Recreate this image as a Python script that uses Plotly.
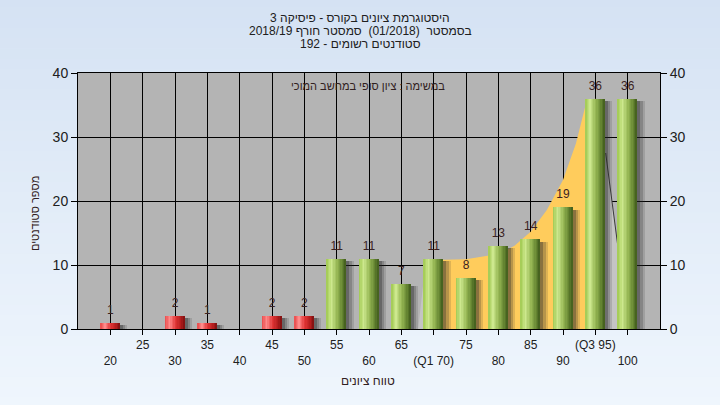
import plotly.graph_objects as go

# ---------------- data ----------------
categories = [20, 25, 30, 35, 40, 45, 50, 55, 60, 65, 70, 75, 80, 85, 90, 95, 100]
counts = [1, 0, 2, 1, 0, 2, 2, 11, 11, 7, 11, 8, 13, 14, 19, 36, 36]
tick_labels = ["20", "25", "30", "35", "40", "45", "50", "55", "60", "65",
               "(Q1 70)", "75", "80", "85", "90", "(Q3 95)", "100"]
pass_grade = 55

iqr_x = [70, 75, 80, 82.5, 85, 87.5, 90, 92, 93.5, 95]
iqr_y = [10.8, 10.9, 11.7, 13.0, 15.2, 18.6, 23.3, 29.0, 35.0, 36]
tail_left_x = [67.6, 68.6, 70]
tail_left_y = [0, 9, 10.8]
tail_right_x = [95, 96.6, 98.6]
tail_right_y = [36, 27.5, 12]

title_lines = ["היסטוגרמת ציונים בקורס - פיסיקה 3",
               "בסמסטר  (01/2018)  סמסטר חורף 2018/19",
               "סטודנטים רשומים - 192"]
note_text = "במשימה : ציון סופי במחשב המוכי"
x_title = "טווח ציונים"
y_title = "מספר סטודנטים"

FONT = "Liberation Sans, Arial, sans-serif"


def hex2rgb(h):
    h = h.lstrip("#")
    return tuple(int(h[i:i + 2], 16) for i in (0, 2, 4))


def interp(stops, t):
    for (t0, c0), (t1, c1) in zip(stops[:-1], stops[1:]):
        if t0 <= t <= t1:
            f = (t - t0) / (t1 - t0) if t1 > t0 else 0
            a, b = hex2rgb(c0), hex2rgb(c1)
            return "rgb(%d,%d,%d)" % tuple(round(a[k] + (b[k] - a[k]) * f) for k in range(3))
    return stops[-1][1]


def area_path(xs, ys):
    pts = ["M %s,0" % xs[0]] + ["L %s,%s" % (x, y) for x, y in zip(xs, ys)] + ["L %s,0 Z" % xs[-1]]
    return " ".join(pts)


green_stops = [(0, "#9fc850"), (0.25, "#cde88e"), (0.55, "#94b552"), (0.85, "#5f7f2e"), (1, "#3f5a1c")]
red_stops = [(0, "#e84a4a"), (0.25, "#ff8a8a"), (0.55, "#e03434"), (0.85, "#b01c1c"), (1, "#7c1010")]

fig = go.Figure()

# background gradient on the paper (as shapes) + gray plot area
n_bands = 40
y_lo, y_hi = -76 / 256 - 0.01, 1 + 73 / 256 + 0.01
top_c, bot_c = hex2rgb("#d5e2f3"), hex2rgb("#eff6fd")
for i in range(n_bands):
    f = i / (n_bands - 1)
    c = tuple(round(bot_c[k] + (top_c[k] - bot_c[k]) * f) for k in range(3))
    y0 = y_lo + (y_hi - y_lo) * i / n_bands
    y1 = y_lo + (y_hi - y_lo) * (i + 1) / n_bands + 0.002
    fig.add_shape(type="rect", xref="paper", yref="paper", x0=-0.2, x1=1.2, y0=y0, y1=y1,
                  fillcolor="rgb(%d,%d,%d)" % c, line_width=0, layer="below")
fig.add_shape(type="rect", xref="paper", yref="paper", x0=0, x1=1, y0=0, y1=1,
              fillcolor="#b4b4b4", line_width=0, layer="below")

# distribution areas (between gridlines and bars)
fig.add_shape(type="path", xref="x", yref="y", path=area_path(tail_left_x, tail_left_y),
              fillcolor="#c4c4c4", line_width=0, layer="between")
fig.add_shape(type="path", xref="x", yref="y", path=area_path(tail_right_x, tail_right_y),
              fillcolor="#c4c4c4", line_width=0, layer="between")
fig.add_shape(type="line", xref="x", yref="y", x0=tail_right_x[1], y0=tail_right_y[1],
              x1=tail_right_x[2], y1=tail_right_y[2], line=dict(color="#3a3a3a", width=1),
              layer="between")
fig.add_shape(type="path", xref="x", yref="y", path=area_path(iqr_x, iqr_y),
              fillcolor="#ffcc5c", line_width=0, layer="between")

bar_w = 3.0
# shadows
for shift, alpha in [(1.15, 0.15), (0.8, 0.22), (0.45, 0.32)]:
    fig.add_trace(go.Bar(x=categories, y=[max(c - 0.35, 0) if c > 0 else 0 for c in counts],
                         width=bar_w, offset=-bar_w / 2 + shift,
                         marker=dict(color="rgba(40,40,40,%.2f)" % alpha, line_width=0),
                         hoverinfo="skip"))

# bars drawn as vertical strips for a cylinder-like gradient
N = 14
for i in range(N):
    t = (i + 0.5) / N
    cols = [interp(green_stops, t) if c >= pass_grade else interp(red_stops, t) for c in categories]
    fig.add_trace(go.Bar(x=categories, y=counts, width=bar_w / N * 1.08,
                         offset=-bar_w / 2 + i * bar_w / N,
                         marker=dict(color=cols, line_width=0), hoverinfo="skip"))

# value labels
lab_x = [x for x, c in zip(categories, counts) if c > 0]
lab_y = [c for c in counts if c > 0]
fig.add_trace(go.Scatter(x=lab_x, y=lab_y, mode="markers+text", text=[str(v) for v in lab_y],
                         textposition="top center", marker=dict(size=8, opacity=0),
                         textfont=dict(size=12, color="#3a2222", family=FONT), hoverinfo="skip"))

# invisible trace for the right axis
fig.add_trace(go.Scatter(x=[categories[0]], y=[0], yaxis="y2", mode="markers",
                         marker=dict(opacity=0), hoverinfo="skip"))

ticktext = [lab if i % 2 == 1 else "<br>" + lab for i, lab in enumerate(tick_labels)]

fig.update_layout(
    width=720, height=405,
    margin=dict(l=78, r=60, t=73, b=76, autoexpand=False),
    paper_bgcolor="#e3edf8",
    plot_bgcolor="rgba(0,0,0,0)",
    showlegend=False,
    barmode="overlay",
    bargap=0,
    hovermode=False,
    font=dict(family=FONT, size=12, color="#202020"),
    xaxis=dict(range=[15, 105], tickmode="array", tickvals=categories, ticktext=ticktext,
               tickangle=0, automargin=False,
               ticks="outside", ticklen=5, tickcolor="black", tickwidth=1,
               showgrid=True, gridcolor="black", gridwidth=1,
               showline=True, linecolor="black", linewidth=1, mirror=True,
               zeroline=False, tickfont=dict(size=12, family=FONT, color="#202020")),
    yaxis=dict(range=[0, 40], tickvals=[0, 10, 20, 30, 40], ticks="outside", ticklen=6,
               automargin=False,
               tickcolor="black", showgrid=True, gridcolor="black", gridwidth=1,
               showline=True, linecolor="black", linewidth=1, mirror=True, zeroline=False,
               tickfont=dict(size=14, family=FONT, color="#202020")),
    yaxis2=dict(range=[0, 40], tickvals=[0, 10, 20, 30, 40], overlaying="y", side="right",
                automargin=False,
                ticks="outside", ticklen=6, tickcolor="black", showgrid=False,
                showline=True, linecolor="black", zeroline=False,
                tickfont=dict(size=14, family=FONT, color="#202020")),
)

title_y_px = [18, 31, 44]
for txt, py in zip(title_lines, title_y_px):
    fig.add_annotation(text=txt, xref="paper", yref="paper", x=(360 - 78) / 582,
                       y=(329 - py) / 256, xanchor="center", yanchor="middle", showarrow=False,
                       font=dict(size=12, color="#202020", family=FONT))

fig.add_annotation(text=note_text, xref="paper", yref="paper", x=(368 - 78) / 582,
                   y=(329 - 86) / 256, xanchor="center", yanchor="middle", showarrow=False,
                   font=dict(size=11, color="#302020", family=FONT))
fig.add_annotation(text=x_title, xref="paper", yref="paper", x=(368 - 78) / 582,
                   y=(329 - 381) / 256, xanchor="center", yanchor="middle", showarrow=False,
                   font=dict(size=12, color="#302020", family=FONT))
fig.add_annotation(text=y_title, xref="paper", yref="paper", x=(35 - 78) / 582,
                   y=(329 - 214) / 256, xanchor="center", yanchor="middle", showarrow=False,
                   textangle=-90, font=dict(size=11, color="#302020", family=FONT))

fig.write_html("out.html", config={"displayModeBar": False},
               post_script="document.body.style.margin='0';document.body.style.overflow='hidden';")
